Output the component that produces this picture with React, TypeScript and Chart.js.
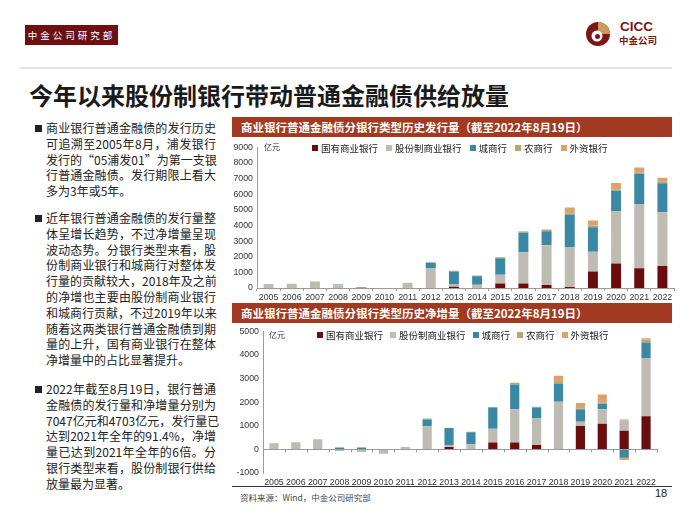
import React, { useEffect, useRef } from "react";
import { Chart, registerables } from "chart.js";
Chart.register(...registerables);

const years = ["2005","2006","2007","2008","2009","2010","2011","2012","2013","2014","2015","2016","2017","2018","2019","2020","2021","2022"];
const seriesNames = ["国有商业银行", "股份制商业银行", "城商行", "农商行", "外资银行"];
const seriesColors = ["#6B0C0E", "#BEBBB2", "#3A88A3", "#B8A56F", "#DDA26C"];

// 发行量（亿元）
const issueSOE = [0,0,0,0,0,0,0,0,80,0,290,290,190,60,1060,1570,1270,1400];
const issueJoint = [250,270,420,180,20,0,340,1250,150,200,560,1990,2540,2570,1260,3360,4100,3440];
const issueCity = [0,0,0,40,40,0,0,350,830,550,1050,1250,900,2070,1560,1290,1940,1860];
const issueRural = [0,0,0,0,0,0,0,50,40,50,60,80,110,80,110,80,60,90];
const issueForeign = [0,0,0,0,0,0,0,0,0,0,0,20,0,370,330,420,330,257];

// 净增量（亿元）
const netSOE = [0,0,0,0,0,0,0,0,100,0,290,290,190,0,990,1090,790,1400];
const netJoint = [260,300,430,-70,-110,-190,100,980,90,220,580,1410,1120,2020,180,610,440,2470];
const netCity = [0,0,0,80,80,0,0,280,710,500,900,1050,460,770,530,230,-350,660];
const netRural = [0,0,0,0,0,0,0,50,0,25,20,70,40,60,40,40,30,110];
const netForeign = [0,0,0,0,0,0,0,0,0,0,0,0,0,270,220,350,-100,63];

const para1 = [
  "商业银行普通金融债的发行历史",
  "可追溯至2005年8月，浦发银行",
  "发行的“05浦发01”为第一支银",
  "行普通金融债。发行期限上看大",
  "多为3年或5年。",
];
const para2 = [
  "近年银行普通金融债的发行量整",
  "体呈增长趋势，不过净增量呈现",
  "波动态势。分银行类型来看，股",
  "份制商业银行和城商行对整体发",
  "行量的贡献较大，2018年及之前",
  "的净增也主要由股份制商业银行",
  "和城商行贡献，不过2019年以来",
  "随着这两类银行普通金融债到期",
  "量的上升，国有商业银行在整体",
  "净增量中的占比显著提升。",
];
const para3 = [
  "2022年截至8月19日，银行普通",
  "金融债的发行量和净增量分别为",
  "7047亿元和4703亿元，发行量已",
  "达到2021年全年的91.4%，净增",
  "量已达到2021年全年的6倍。分",
  "银行类型来看，股份制银行供给",
  "放量最为显著。",
];

const CJK = '"Noto Sans CJK SC", "Noto Sans", sans-serif';
const LAT = '"Liberation Sans", Arial, sans-serif';

type BarProps = {
  left: number; top: number; width: number; height: number;
  data: number[][]; min: number; max: number;
  yWidth: number; xHeight: number; padRight: number; barPct: number; zeroLine: boolean;
};

function BarChart(p: BarProps) {
  const ref = useRef<HTMLCanvasElement | null>(null);
  useEffect(() => {
    if (!ref.current) return;
    const tickFont = { family: LAT, size: 8.8 };
    const zeroTicks = {
      id: "zeroTicks",
      afterDraw(chart: any) {
        if (!p.zeroLine) return;
        const xs = chart.scales.x, ys = chart.scales.y, ctx = chart.ctx;
        const y0 = ys.getPixelForValue(0);
        const n = years.length;
        const w = (xs.right - xs.left) / n;
        ctx.save();
        ctx.strokeStyle = "#9a9a9a";
        ctx.lineWidth = 1;
        ctx.beginPath();
        for (let i = 0; i <= n; i++) {
          const px = Math.round(xs.left + i * w) + 0.5;
          ctx.moveTo(px, y0);
          ctx.lineTo(px, y0 + 3);
        }
        ctx.stroke();
        ctx.restore();
      },
    };
    const chart = new Chart(ref.current, {
      type: "bar",
      data: {
        labels: years,
        datasets: p.data.map((d, i) => ({
          label: seriesNames[i],
          data: d,
          backgroundColor: seriesColors[i],
          borderWidth: 0,
          categoryPercentage: 1,
          barPercentage: p.barPct,
        })),
      },
      options: {
        animation: false,
        responsive: false,
        maintainAspectRatio: false,
        layout: { padding: { top: 6, right: p.padRight, left: 0, bottom: 0 } },
        plugins: { legend: { display: false }, tooltip: { enabled: false } },
        scales: {
          x: {
            stacked: true,
            offset: true,
            grid: p.zeroLine
              ? { display: false, drawTicks: false, tickLength: 0 }
              : { display: true, drawOnChartArea: false, drawTicks: true, tickLength: 3, color: "#9a9a9a", offset: true },
            border: { display: !p.zeroLine, color: "#9a9a9a" },
            ticks: { font: tickFont, color: "#333", maxRotation: 0, minRotation: 0, autoSkip: false, padding: p.zeroLine ? 4 : 1 },
            afterFit: (s: any) => { s.height = p.xHeight; },
          },
          y: {
            stacked: true,
            min: p.min,
            max: p.max,
            ticks: { stepSize: 1000, font: tickFont, color: "#333", padding: 4, callback: (v: any) => String(v) },
            grid: p.zeroLine
              ? {
                  display: true,
                  drawOnChartArea: true,
                  drawTicks: false,
                  color: (c: any) => (c.tick && c.tick.value === 0 ? "#9a9a9a" : "rgba(0,0,0,0)"),
                }
              : { display: false, drawTicks: false },
            border: { display: true, color: "#9a9a9a" },
            afterFit: (s: any) => { s.width = p.yWidth; },
          },
        },
      },
      plugins: [zeroTicks],
    } as any);
    return () => chart.destroy();
  }, []);
  return (
    <canvas
      ref={ref}
      width={p.width}
      height={p.height}
      style={{ position: "absolute", left: p.left, top: p.top, width: p.width, height: p.height }}
    />
  );
}

function Legend({ left, top, gap }: { left: number; top: number; gap: number }) {
  return (
    <div style={{ position: "absolute", left, top, display: "flex", alignItems: "center", fontFamily: CJK, fontSize: 9.5, color: "#222", lineHeight: "12px", whiteSpace: "nowrap" }}>
      {seriesNames.map((n, i) => (
        <div key={n} style={{ display: "flex", alignItems: "center", marginRight: gap }}>
          <div style={{ width: 6, height: 6, background: seriesColors[i], marginRight: 3 }} />
          <span>{n}</span>
        </div>
      ))}
    </div>
  );
}

function Para({ lines, top }: { lines: string[]; top: number }) {
  return (
    <div style={{ position: "absolute", left: 35, top, width: 190 }}>
      <div style={{ position: "absolute", left: 0, top: 4.5, width: 7, height: 7, background: "#222" }} />
      {lines.map((l, i) => (
        <div
          key={i}
          style={{
            position: "absolute",
            left: 11,
            top: i * 15.8,
            width: 170,
            height: 16,
            fontSize: 12,
            lineHeight: "16px",
            color: "#222",
            fontFamily: CJK,
            textAlign: i === lines.length - 1 ? "left" : "justify",
            textAlignLast: i === lines.length - 1 ? "left" : "justify",
            whiteSpace: "nowrap",
          } as any}
        >
          {l}
        </div>
      ))}
    </div>
  );
}

export default function App() {
  const headerStyle: React.CSSProperties = {
    position: "absolute",
    left: 232,
    width: 440,
    height: 20,
    background: "#A23A21",
    color: "#fff",
    fontFamily: CJK,
    fontWeight: 700,
    fontSize: 11.5,
    lineHeight: "20px",
    paddingLeft: 9,
    boxSizing: "border-box",
    whiteSpace: "nowrap",
  };
  return (
    <div style={{ position: "absolute", left: 0, top: 0, width: 700, height: 525, background: "#fff", overflow: "hidden" }}>
      <div style={{ position: "absolute", left: 25, top: 25, width: 93, height: 20, background: "#6E1012", color: "#fff", fontFamily: CJK, fontSize: 9.5, lineHeight: "20px", letterSpacing: 3, textAlign: "center" }}>
        中金公司研究部
      </div>
      <svg width="26" height="26" viewBox="0 0 26 26" style={{ position: "absolute", left: 585, top: 21 }}>
        <circle cx="13" cy="13" r="12" fill="#7A1518" />
        <path d="M13 13 L13 1 A12 12 0 0 1 25 13 Z" fill="#C99B5E" />
        <circle cx="12" cy="15" r="5.5" fill="#fff" />
        <circle cx="12.5" cy="15.5" r="2.5" fill="#7A1518" />
      </svg>
      <div style={{ position: "absolute", left: 620, top: 20, fontFamily: LAT, fontWeight: 700, fontSize: 13.5, lineHeight: "14px", color: "#7A1518" }}>CICC</div>
      <div style={{ position: "absolute", left: 619, top: 34, fontFamily: CJK, fontWeight: 700, fontSize: 9.5, lineHeight: "12px", color: "#7A1518" }}>中金公司</div>
      <div style={{ position: "absolute", left: 20, top: 67, width: 652, height: 2, background: "#e2e2e2" }} />
      <div style={{ position: "absolute", left: 29, top: 80, fontFamily: CJK, fontWeight: 700, fontSize: 24, lineHeight: "30px", color: "#1a1a1a", whiteSpace: "nowrap" }}>
        今年以来股份制银行带动普通金融债供给放量
      </div>

      <Para lines={para1} top={120} />
      <Para lines={para2} top={210} />
      <Para lines={para3} top={381} />

      <div style={{ ...headerStyle, top: 117 }}>商业银行普通金融债分银行类型历史发行量（截至2022年8月19日）</div>
      <BarChart
        left={228} top={138} width={450} height={164}
        data={[issueSOE, issueJoint, issueCity, issueRural, issueForeign]}
        min={0} max={9000} yWidth={29} xHeight={14} padRight={4} barPct={0.43} zeroLine={false}
      />
      <div style={{ position: "absolute", left: 264, top: 142, fontFamily: CJK, fontSize: 8, lineHeight: "10px", color: "#333" }}>亿元</div>
      <Legend left={312} top={142} gap={8} />

      <div style={{ ...headerStyle, top: 303 }}>商业银行普通金融债分银行类型历史净增量（截至2022年8月19日）</div>
      <BarChart
        left={228} top={322} width={432} height={164}
        data={[netSOE, netJoint, netCity, netRural, netForeign]}
        min={-1000} max={5000} yWidth={35} xHeight={13} padRight={3} barPct={0.42} zeroLine={true}
      />
      <div style={{ position: "absolute", left: 269, top: 330, fontFamily: CJK, fontSize: 8, lineHeight: "10px", color: "#333" }}>亿元</div>
      <Legend left={317} top={329} gap={7} />

      <div style={{ position: "absolute", left: 232, top: 486, width: 440, height: 1, background: "#333" }} />
      <div style={{ position: "absolute", left: 240, top: 491, fontFamily: CJK, fontSize: 8.5, lineHeight: "12px", color: "#444" }}>资料来源：Wind，中金公司研究部</div>
      <div style={{ position: "absolute", left: 655, top: 487, fontFamily: LAT, fontSize: 11, lineHeight: "13px", color: "#222" }}>18</div>
    </div>
  );
}
